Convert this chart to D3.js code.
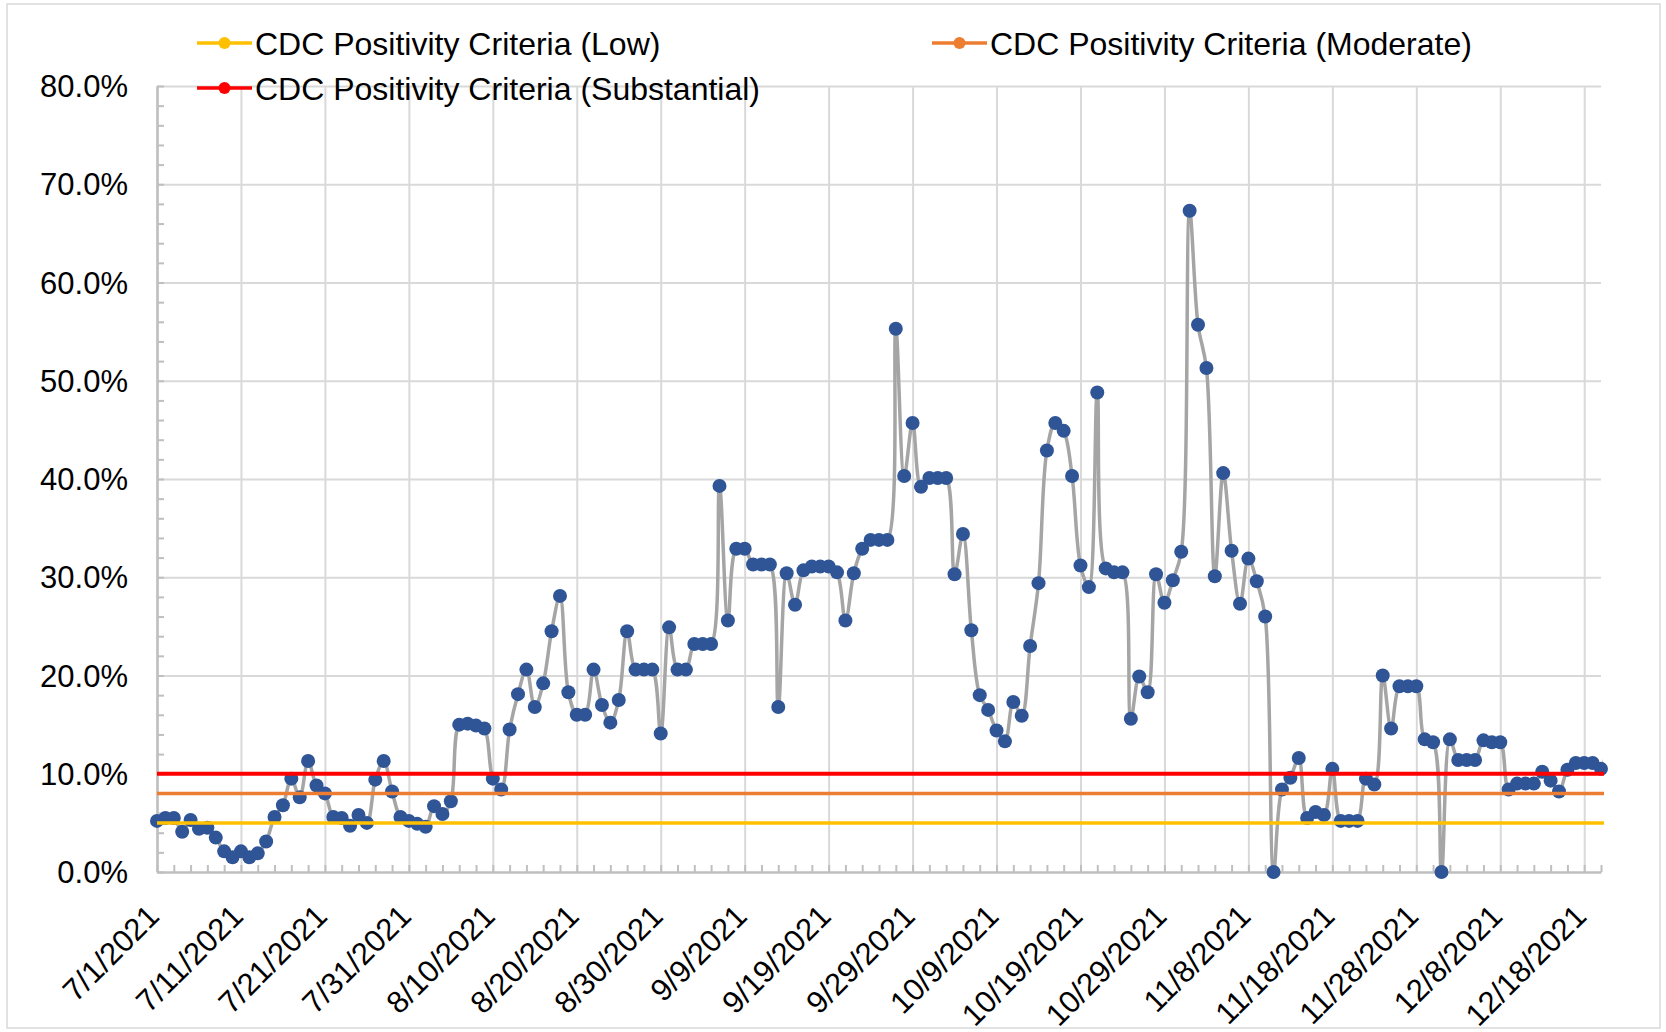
<!DOCTYPE html>
<html>
<head>
<meta charset="utf-8">
<script src="https://cdn.jsdelivr.net/npm/d3@7"></script>
<style>
  body { margin: 0; background: #fff; }
  svg { display: block; font-family: "Liberation Sans", Arial, sans-serif; }
</style>
</head>
<body>
<script>
// daily positivity (%) starting 7/1/2021, one value per day
const startDate = '7/1/2021';
const positivity = [
  5.2, 5.5, 5.5, 4.1, 5.3, 4.4, 4.5, 3.5, 2.1, 1.5,
  2.1, 1.5, 1.9, 3.1, 5.6, 6.8, 9.5, 7.6, 11.3, 8.8,
  8.0, 5.6, 5.5, 4.7, 5.8, 5.0, 9.4, 11.3, 8.2, 5.6,
  5.2, 4.9, 4.6, 6.7, 5.9, 7.2, 15.0, 15.1, 14.9, 14.6,
  9.5, 8.4, 14.5, 18.1, 20.6, 16.8, 19.2, 24.5, 28.1, 18.3,
  16.0, 16.0, 20.6, 17.0, 15.2, 17.5, 24.5, 20.6, 20.6, 20.6,
  14.1, 24.9, 20.6, 20.6, 23.2, 23.2, 23.2, 39.3, 25.6, 32.9,
  32.9, 31.3, 31.3, 31.3, 16.8, 30.4, 27.2, 30.7, 31.1, 31.1,
  31.1, 30.5, 25.6, 30.4, 32.9, 33.8, 33.8, 33.8, 55.3, 40.3,
  45.7, 39.2, 40.1, 40.1, 40.1, 30.3, 34.4, 24.6, 18.0, 16.5,
  14.4, 13.3, 17.3, 15.9, 23.0, 29.4, 42.9, 45.7, 44.9, 40.3,
  31.2, 29.0, 48.8, 30.9, 30.5, 30.5, 15.6, 19.9, 18.3, 30.3,
  27.4, 29.7, 32.6, 67.3, 55.7, 51.3, 30.1, 40.6, 32.7, 27.3,
  31.9, 29.6, 26.0, 0.0, 8.4, 9.6, 11.6, 5.5, 6.1, 5.8,
  10.5, 5.2, 5.2, 5.2, 9.5, 8.9, 20.0, 14.6, 18.9, 18.9,
  18.9, 13.5, 13.2, 0.0, 13.5, 11.4, 11.4, 11.4, 13.4, 13.2,
  13.2, 8.4, 9.0, 9.0, 9.0, 10.2, 9.3, 8.2, 10.4, 11.1,
  11.1, 11.1, 10.5, 17.6
];
const shownDays = 173; // the last value lies past the axis end

const criteriaNames = ['CDC Positivity Criteria (Low)', 'CDC Positivity Criteria (Moderate)', 'CDC Positivity Criteria (Substantial)'];
const criteriaValues = [5, 8, 10];
const criteriaColors = ['#ffc000', '#ed7d31', '#ff0000'];

const xTickLabels = ['7/1/2021', '7/11/2021', '7/21/2021', '7/31/2021', '8/10/2021', '8/20/2021',
  '8/30/2021', '9/9/2021', '9/19/2021', '9/29/2021', '10/9/2021', '10/19/2021', '10/29/2021',
  '11/8/2021', '11/18/2021', '11/28/2021', '12/8/2021', '12/18/2021'];
const yTicks = [0, 10, 20, 30, 40, 50, 60, 70, 80];

const width = 1666;
const height = 1032;
const plotLeft = 157, plotRight = 1601, plotTop = 86, plotBottom = 872;
const DAY = 864e5;

const parseDate = s => { const p = s.split('/').map(Number); return new Date(Date.UTC(p[2], p[0] - 1, p[1])); };
const start = parseDate(startDate);
const data = positivity.map((v, i) => ({ date: new Date(+start + i * DAY), value: v }));
const tickDates = xTickLabels.map(parseDate);

const x = d3.scaleUtc()
  .domain([start, new Date(+start + (shownDays - 1) * DAY)])
  .range([plotLeft, plotRight]);
const y = d3.scaleLinear().domain([0, 80]).range([plotBottom, plotTop]);

const svg = d3.select('body').append('svg')
  .attr('width', width)
  .attr('height', height);

svg.append('rect')
  .attr('x', 7).attr('y', 4)
  .attr('width', 1653).attr('height', 1024)
  .attr('fill', '#fff')
  .attr('stroke', '#d9d9d9')
  .attr('stroke-width', 1.5);

svg.append('clipPath').attr('id', 'plot-clip')
  .append('rect')
  .attr('x', plotLeft).attr('y', 0)
  .attr('width', plotRight - plotLeft + 2).attr('height', height);

// gridlines
svg.append('g')
  .attr('transform', `translate(0,${plotBottom})`)
  .call(d3.axisBottom(x).tickValues(tickDates).tickSize(-(plotBottom - plotTop)).tickFormat(''))
  .call(g => g.select('.domain').remove())
  .call(g => g.selectAll('line').attr('stroke', '#d9d9d9').attr('stroke-width', 2));

svg.append('g')
  .attr('transform', `translate(${plotLeft},0)`)
  .call(d3.axisLeft(y).tickValues(yTicks.slice(1)).tickSize(-(plotRight - plotLeft)).tickFormat(''))
  .call(g => g.select('.domain').remove())
  .call(g => g.selectAll('line').attr('stroke', '#d9d9d9').attr('stroke-width', 2));

// minor ticks (inside)
const minorDays = d3.range(0, shownDays, 2).map(i => new Date(+start + i * DAY));
svg.append('g')
  .attr('transform', `translate(0,${plotBottom})`)
  .call(d3.axisBottom(x).tickValues(minorDays).tickSize(-7).tickFormat('').tickSizeOuter(0))
  .call(g => g.select('.domain').attr('stroke', '#bfbfbf').attr('stroke-width', 2.5))
  .call(g => g.selectAll('line').attr('stroke', '#bfbfbf').attr('stroke-width', 2));

svg.append('g')
  .attr('transform', `translate(${plotLeft},0)`)
  .call(d3.axisLeft(y).tickValues(d3.range(0, 81, 2)).tickSize(-7).tickFormat('').tickSizeOuter(0))
  .call(g => g.select('.domain').attr('stroke', '#bfbfbf').attr('stroke-width', 2.5))
  .call(g => g.selectAll('line').attr('stroke', '#bfbfbf').attr('stroke-width', 2));

// tick labels
svg.append('g')
  .selectAll('text')
  .data(yTicks)
  .join('text')
  .attr('x', 128)
  .attr('y', d => y(d))
  .attr('dy', '0.36em')
  .attr('text-anchor', 'end')
  .attr('font-size', 31)
  .attr('fill', '#000')
  .text(d => d.toFixed(1) + '%');

svg.append('g')
  .selectAll('text')
  .data(tickDates)
  .join('text')
  .attr('transform', d => `translate(${x(d) + 4},${plotBottom + 46}) rotate(-45)`)
  .attr('text-anchor', 'end')
  .attr('font-size', 31)
  .attr('fill', '#000')
  .text((d, i) => xTickLabels[i]);

// series
const line = d3.line()
  .curve(d3.curveCatmullRom)
  .x(d => x(d.date))
  .y(d => y(d.value));

svg.append('path')
  .datum(data)
  .attr('clip-path', 'url(#plot-clip)')
  .attr('fill', 'none')
  .attr('stroke', '#a5a5a5')
  .attr('stroke-width', 3.5)
  .attr('d', line);

svg.append('g')
  .selectAll('circle')
  .data(data.slice(0, shownDays))
  .join('circle')
  .attr('cx', d => x(d.date))
  .attr('cy', d => y(d.value))
  .attr('r', 7)
  .attr('fill', '#2f5597');

// CDC criteria lines
svg.append('g')
  .selectAll('line')
  .data(criteriaValues)
  .join('line')
  .attr('x1', plotLeft)
  .attr('x2', plotRight + 3)
  .attr('y1', d => y(d))
  .attr('y2', d => y(d))
  .attr('stroke', (d, i) => criteriaColors[i])
  .attr('stroke-width', (d, i) => i === 2 ? 4 : 3.5);

// legend
const legendPos = [[197, 43], [932, 43], [197, 88]];
const legend = svg.append('g')
  .selectAll('g')
  .data(criteriaNames)
  .join('g')
  .attr('transform', (d, i) => `translate(${legendPos[i][0]},${legendPos[i][1]})`);

legend.append('line')
  .attr('x1', 0).attr('x2', 55)
  .attr('stroke', (d, i) => criteriaColors[i])
  .attr('stroke-width', 3.5);

legend.append('circle')
  .attr('cx', 27.5)
  .attr('r', 6)
  .attr('fill', (d, i) => criteriaColors[i]);

legend.append('text')
  .attr('x', 58)
  .attr('dy', '0.36em')
  .attr('font-size', 32)
  .attr('fill', '#000')
  .text(d => d);
</script>
</body>
</html>
